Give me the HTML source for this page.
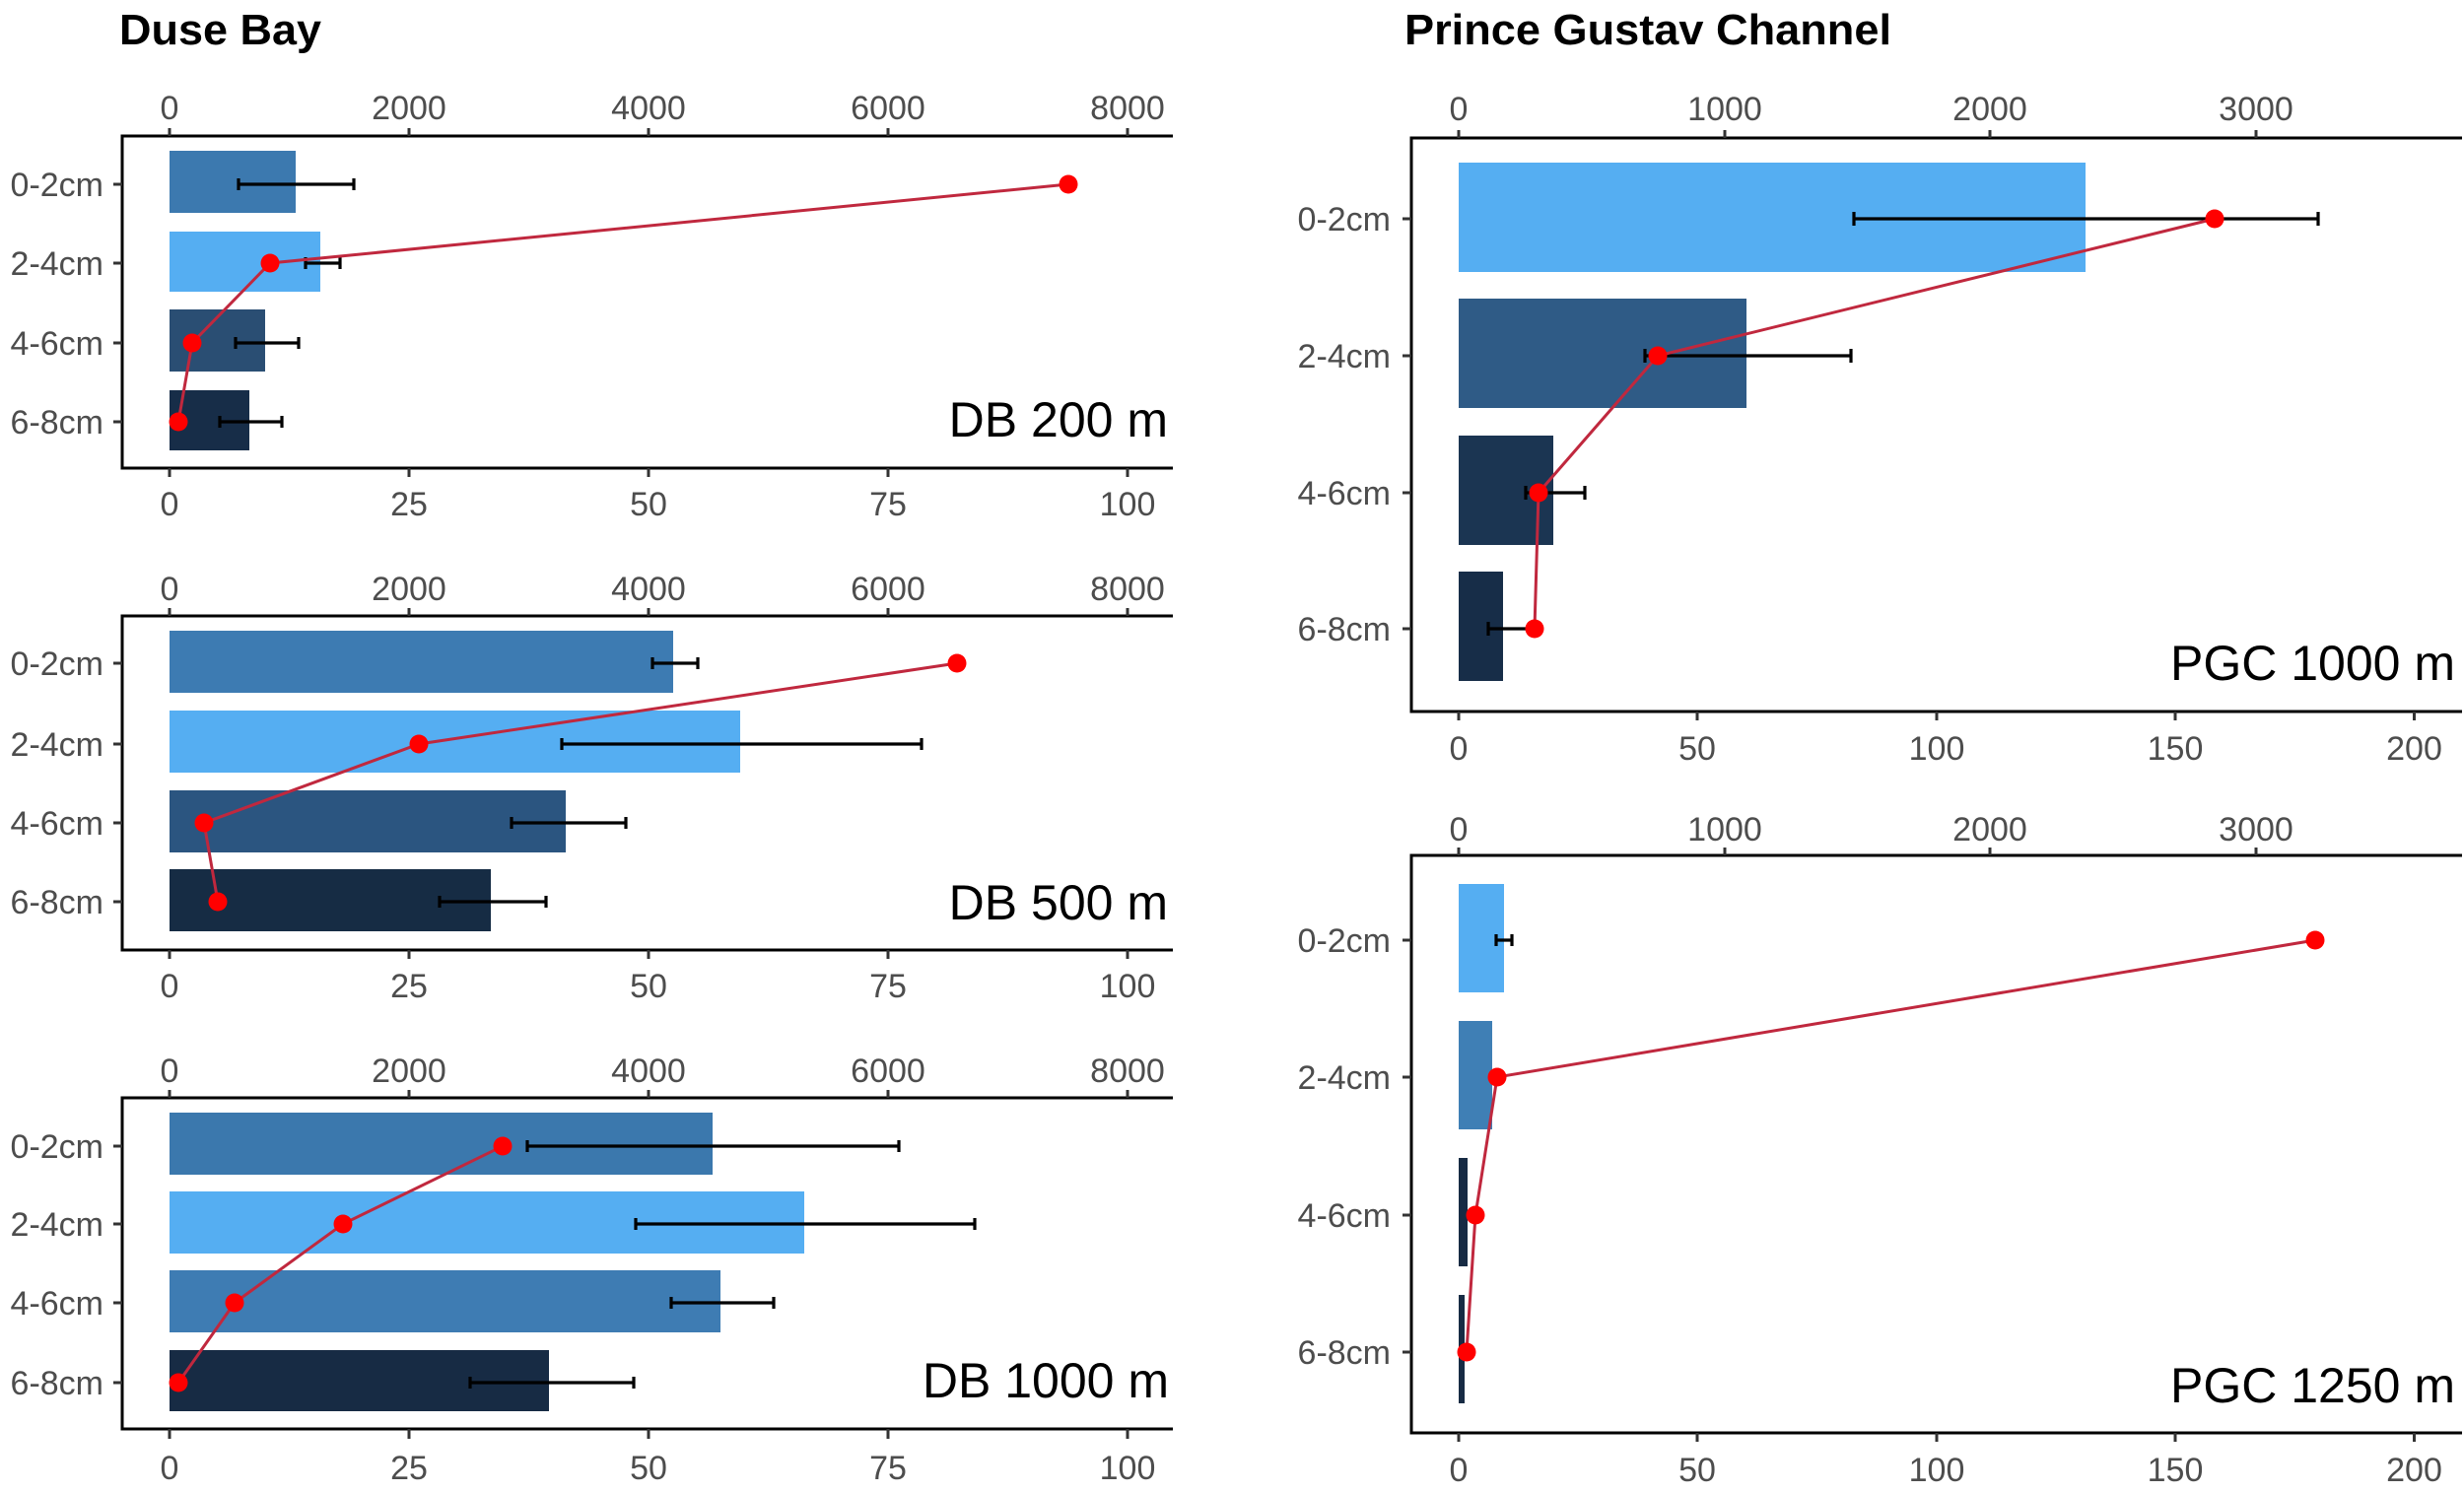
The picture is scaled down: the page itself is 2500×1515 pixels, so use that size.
<!DOCTYPE html>
<html><head><meta charset="utf-8"><style>
html,body{margin:0;padding:0;background:#fff;}
svg{display:block;}
text{font-family:"Liberation Sans",Arial,sans-serif;}
.tk{font-size:34px;fill:#4d4d4d;}
.cat{font-size:34px;fill:#4d4d4d;text-anchor:end;}
.pl{font-size:50px;fill:#000;text-anchor:end;}
.ttl{font-size:44px;font-weight:bold;fill:#000;}
.ax{stroke:#000;stroke-width:3;fill:none;}
.tm{stroke:#333;stroke-width:3;}
.eb{stroke:#000;stroke-width:3.2;fill:none;}
.ln{stroke:#c0283e;stroke-width:3;fill:none;}
.pt{fill:#ff0000;}
</style></head><body>
<svg width="2500" height="1515" viewBox="0 0 2500 1515" xmlns="http://www.w3.org/2000/svg">
<rect width="2500" height="1515" fill="#fff"/>

<text class="ttl" x="121" y="45" textLength="205" lengthAdjust="spacingAndGlyphs">Duse Bay</text>
<text class="ttl" x="1425" y="45" textLength="494" lengthAdjust="spacingAndGlyphs">Prince Gustav Channel</text>

<!-- ================= DB 200 ================= -->
<g>
<line class="ax" x1="124" y1="138" x2="1190" y2="138"/>
<line class="ax" x1="124" y1="475" x2="1190" y2="475"/>
<line class="ax" x1="124" y1="136.5" x2="124" y2="476.5"/>
<g class="tm">
<line x1="172" y1="138" x2="172" y2="130"/><line x1="415" y1="138" x2="415" y2="130"/><line x1="658" y1="138" x2="658" y2="130"/><line x1="901" y1="138" x2="901" y2="130"/><line x1="1144" y1="138" x2="1144" y2="130"/>
<line x1="172" y1="475" x2="172" y2="484"/><line x1="415" y1="475" x2="415" y2="484"/><line x1="658" y1="475" x2="658" y2="484"/><line x1="901" y1="475" x2="901" y2="484"/><line x1="1144" y1="475" x2="1144" y2="484"/>
<line x1="115" y1="187" x2="124" y2="187"/><line x1="115" y1="267" x2="124" y2="267"/><line x1="115" y1="348" x2="124" y2="348"/><line x1="115" y1="428" x2="124" y2="428"/>
</g>
<g class="tk" text-anchor="middle">
<text x="172" y="121">0</text><text x="415" y="121">2000</text><text x="658" y="121">4000</text><text x="901" y="121">6000</text><text x="1144" y="121">8000</text>
<text x="172" y="523">0</text><text x="415" y="523">25</text><text x="658" y="523">50</text><text x="901" y="523">75</text><text x="1144" y="523">100</text>
</g>
<text class="cat" x="105" y="199">0-2cm</text><text class="cat" x="105" y="279">2-4cm</text><text class="cat" x="105" y="360">4-6cm</text><text class="cat" x="105" y="440">6-8cm</text>
<rect x="172" y="153" width="128" height="63" fill="#3c79af"/>
<rect x="172" y="235" width="153" height="61" fill="#55aef2"/>
<rect x="172" y="314" width="97" height="63" fill="#2a4e73"/>
<rect x="172" y="396" width="81" height="61" fill="#172d48"/>
<path class="eb" d="M242 187H359M242 181V193M359 181V193 M310 267H345M310 261V273M345 261V273 M239 348H303M239 342V354M303 342V354 M223 428H286M223 422V434M286 422V434"/>
<polyline class="ln" points="1084,187 274,267 195,348 181,428"/>
<circle class="pt" cx="1084" cy="187" r="9.5"/><circle class="pt" cx="274" cy="267" r="9.5"/><circle class="pt" cx="195" cy="348" r="9.5"/><circle class="pt" cx="181" cy="428" r="9.5"/>
<text class="pl" x="1185" y="443">DB 200 m</text>
</g>

<!-- ================= DB 500 ================= -->
<g>
<line class="ax" x1="124" y1="625" x2="1190" y2="625"/>
<line class="ax" x1="124" y1="964" x2="1190" y2="964"/>
<line class="ax" x1="124" y1="623.5" x2="124" y2="965.5"/>
<g class="tm">
<line x1="172" y1="625" x2="172" y2="617"/><line x1="415" y1="625" x2="415" y2="617"/><line x1="658" y1="625" x2="658" y2="617"/><line x1="901" y1="625" x2="901" y2="617"/><line x1="1144" y1="625" x2="1144" y2="617"/>
<line x1="172" y1="964" x2="172" y2="973"/><line x1="415" y1="964" x2="415" y2="973"/><line x1="658" y1="964" x2="658" y2="973"/><line x1="901" y1="964" x2="901" y2="973"/><line x1="1144" y1="964" x2="1144" y2="973"/>
<line x1="115" y1="673" x2="124" y2="673"/><line x1="115" y1="755" x2="124" y2="755"/><line x1="115" y1="835" x2="124" y2="835"/><line x1="115" y1="915" x2="124" y2="915"/>
</g>
<g class="tk" text-anchor="middle">
<text x="172" y="609">0</text><text x="415" y="609">2000</text><text x="658" y="609">4000</text><text x="901" y="609">6000</text><text x="1144" y="609">8000</text>
<text x="172" y="1012">0</text><text x="415" y="1012">25</text><text x="658" y="1012">50</text><text x="901" y="1012">75</text><text x="1144" y="1012">100</text>
</g>
<text class="cat" x="105" y="685">0-2cm</text><text class="cat" x="105" y="767">2-4cm</text><text class="cat" x="105" y="847">4-6cm</text><text class="cat" x="105" y="927">6-8cm</text>
<rect x="172" y="640" width="511" height="63" fill="#3d7bb2"/>
<rect x="172" y="721" width="579" height="63" fill="#55aef2"/>
<rect x="172" y="802" width="402" height="63" fill="#2b5580"/>
<rect x="172" y="882" width="326" height="63" fill="#162c44"/>
<path class="eb" d="M662 673H708M662 667V679M708 667V679 M570 755H935M570 749V761M935 749V761 M519 835H635M519 829V841M635 829V841 M446 915H554M446 909V921M554 909V921"/>
<polyline class="ln" points="971,673 425,755 207,835 221,915"/>
<circle class="pt" cx="971" cy="673" r="9.5"/><circle class="pt" cx="425" cy="755" r="9.5"/><circle class="pt" cx="207" cy="835" r="9.5"/><circle class="pt" cx="221" cy="915" r="9.5"/>
<text class="pl" x="1185" y="933">DB 500 m</text>
</g>

<!-- ================= DB 1000 ================= -->
<g>
<line class="ax" x1="124" y1="1114" x2="1190" y2="1114"/>
<line class="ax" x1="124" y1="1450" x2="1190" y2="1450"/>
<line class="ax" x1="124" y1="1112.5" x2="124" y2="1451.5"/>
<g class="tm">
<line x1="172" y1="1114" x2="172" y2="1106"/><line x1="415" y1="1114" x2="415" y2="1106"/><line x1="658" y1="1114" x2="658" y2="1106"/><line x1="901" y1="1114" x2="901" y2="1106"/><line x1="1144" y1="1114" x2="1144" y2="1106"/>
<line x1="172" y1="1450" x2="172" y2="1460"/><line x1="415" y1="1450" x2="415" y2="1460"/><line x1="658" y1="1450" x2="658" y2="1460"/><line x1="901" y1="1450" x2="901" y2="1460"/><line x1="1144" y1="1450" x2="1144" y2="1460"/>
<line x1="115" y1="1163" x2="124" y2="1163"/><line x1="115" y1="1242" x2="124" y2="1242"/><line x1="115" y1="1322" x2="124" y2="1322"/><line x1="115" y1="1403" x2="124" y2="1403"/>
</g>
<g class="tk" text-anchor="middle">
<text x="172" y="1098">0</text><text x="415" y="1098">2000</text><text x="658" y="1098">4000</text><text x="901" y="1098">6000</text><text x="1144" y="1098">8000</text>
<text x="172" y="1501">0</text><text x="415" y="1501">25</text><text x="658" y="1501">50</text><text x="901" y="1501">75</text><text x="1144" y="1501">100</text>
</g>
<text class="cat" x="105" y="1175">0-2cm</text><text class="cat" x="105" y="1254">2-4cm</text><text class="cat" x="105" y="1334">4-6cm</text><text class="cat" x="105" y="1415">6-8cm</text>
<rect x="172" y="1129" width="551" height="63" fill="#3b78ad"/>
<rect x="172" y="1209" width="644" height="63" fill="#55aef2"/>
<rect x="172" y="1289" width="559" height="63" fill="#3e7cb3"/>
<rect x="172" y="1370" width="385" height="62" fill="#172b44"/>
<path class="eb" d="M535 1163H912M535 1157V1169M912 1157V1169 M645 1242H989M645 1236V1248M989 1236V1248 M681 1322H785M681 1316V1328M785 1316V1328 M477 1403H643M477 1397V1409M643 1397V1409"/>
<polyline class="ln" points="510,1163 348,1242 238,1322 181,1403"/>
<circle class="pt" cx="510" cy="1163" r="9.5"/><circle class="pt" cx="348" cy="1242" r="9.5"/><circle class="pt" cx="238" cy="1322" r="9.5"/><circle class="pt" cx="181" cy="1403" r="9.5"/>
<text class="pl" x="1186" y="1418">DB 1000 m</text>
</g>

<!-- ================= PGC 1000 ================= -->
<g>
<line class="ax" x1="1432" y1="140" x2="2498" y2="140"/>
<line class="ax" x1="1432" y1="722" x2="2498" y2="722"/>
<line class="ax" x1="1432" y1="138.5" x2="1432" y2="723.5"/>
<g class="tm">
<line x1="1480" y1="140" x2="1480" y2="132"/><line x1="1750" y1="140" x2="1750" y2="132"/><line x1="2019" y1="140" x2="2019" y2="132"/><line x1="2289" y1="140" x2="2289" y2="132"/>
<line x1="1480" y1="722" x2="1480" y2="731"/><line x1="1722" y1="722" x2="1722" y2="731"/><line x1="1965" y1="722" x2="1965" y2="731"/><line x1="2207" y1="722" x2="2207" y2="731"/><line x1="2449.5" y1="722" x2="2449.5" y2="731"/>
<line x1="1423" y1="222" x2="1432" y2="222"/><line x1="1423" y1="361" x2="1432" y2="361"/><line x1="1423" y1="500" x2="1432" y2="500"/><line x1="1423" y1="638" x2="1432" y2="638"/>
</g>
<g class="tk" text-anchor="middle">
<text x="1480" y="122">0</text><text x="1750" y="122">1000</text><text x="2019" y="122">2000</text><text x="2289" y="122">3000</text>
<text x="1480" y="771">0</text><text x="1722" y="771">50</text><text x="1965" y="771">100</text><text x="2207" y="771">150</text><text x="2449.5" y="771">200</text>
</g>
<text class="cat" x="1411" y="234">0-2cm</text><text class="cat" x="1411" y="373">2-4cm</text><text class="cat" x="1411" y="512">4-6cm</text><text class="cat" x="1411" y="650">6-8cm</text>
<rect x="1480" y="165" width="636" height="111" fill="#55aef2"/>
<rect x="1480" y="303" width="292" height="111" fill="#2f5b86"/>
<rect x="1480" y="442" width="96" height="111" fill="#1b3552"/>
<rect x="1480" y="580" width="45" height="111" fill="#172d48"/>
<path class="eb" d="M1881 222H2352M1881 215V229M2352 215V229 M1669 361H1878M1669 354V368M1878 354V368 M1548 500H1608M1548 493V507M1608 493V507 M1510 638H1552M1510 631V645M1552 631V645"/>
<polyline class="ln" points="2247,222 1682,361 1561,500 1557,638"/>
<circle class="pt" cx="2247" cy="222" r="9.5"/><circle class="pt" cx="1682" cy="361" r="9.5"/><circle class="pt" cx="1561" cy="500" r="9.5"/><circle class="pt" cx="1557" cy="638" r="9.5"/>
<text class="pl" x="2491" y="690">PGC 1000 m</text>
</g>

<!-- ================= PGC 1250 ================= -->
<g>
<line class="ax" x1="1432" y1="868" x2="2498" y2="868"/>
<line class="ax" x1="1432" y1="1454" x2="2498" y2="1454"/>
<line class="ax" x1="1432" y1="866.5" x2="1432" y2="1455.5"/>
<g class="tm">
<line x1="1480" y1="868" x2="1480" y2="860"/><line x1="1750" y1="868" x2="1750" y2="860"/><line x1="2019" y1="868" x2="2019" y2="860"/><line x1="2289" y1="868" x2="2289" y2="860"/>
<line x1="1480" y1="1454" x2="1480" y2="1463"/><line x1="1722" y1="1454" x2="1722" y2="1463"/><line x1="1965" y1="1454" x2="1965" y2="1463"/><line x1="2207" y1="1454" x2="2207" y2="1463"/><line x1="2449.5" y1="1454" x2="2449.5" y2="1463"/>
<line x1="1423" y1="954" x2="1432" y2="954"/><line x1="1423" y1="1093" x2="1432" y2="1093"/><line x1="1423" y1="1233" x2="1432" y2="1233"/><line x1="1423" y1="1372" x2="1432" y2="1372"/>
</g>
<g class="tk" text-anchor="middle">
<text x="1480" y="853">0</text><text x="1750" y="853">1000</text><text x="2019" y="853">2000</text><text x="2289" y="853">3000</text>
<text x="1480" y="1503">0</text><text x="1722" y="1503">50</text><text x="1965" y="1503">100</text><text x="2207" y="1503">150</text><text x="2449.5" y="1503">200</text>
</g>
<text class="cat" x="1411" y="966">0-2cm</text><text class="cat" x="1411" y="1105">2-4cm</text><text class="cat" x="1411" y="1245">4-6cm</text><text class="cat" x="1411" y="1384">6-8cm</text>
<rect x="1480" y="897" width="46" height="110" fill="#55aef2"/>
<rect x="1480" y="1036" width="34" height="110" fill="#3f7fb5"/>
<rect x="1480" y="1175" width="9" height="110" fill="#172b44"/>
<rect x="1480" y="1314" width="6" height="110" fill="#172b44"/>
<path class="eb" d="M1518 954H1534M1518 948V960M1534 948V960"/>
<polyline class="ln" points="2349,954 1519,1093 1497,1233 1488,1372"/>
<circle class="pt" cx="2349" cy="954" r="9.5"/><circle class="pt" cx="1519" cy="1093" r="9.5"/><circle class="pt" cx="1497" cy="1233" r="9.5"/><circle class="pt" cx="1488" cy="1372" r="9.5"/>
<text class="pl" x="2491" y="1423">PGC 1250 m</text>
</g>
</svg>
</body></html>
